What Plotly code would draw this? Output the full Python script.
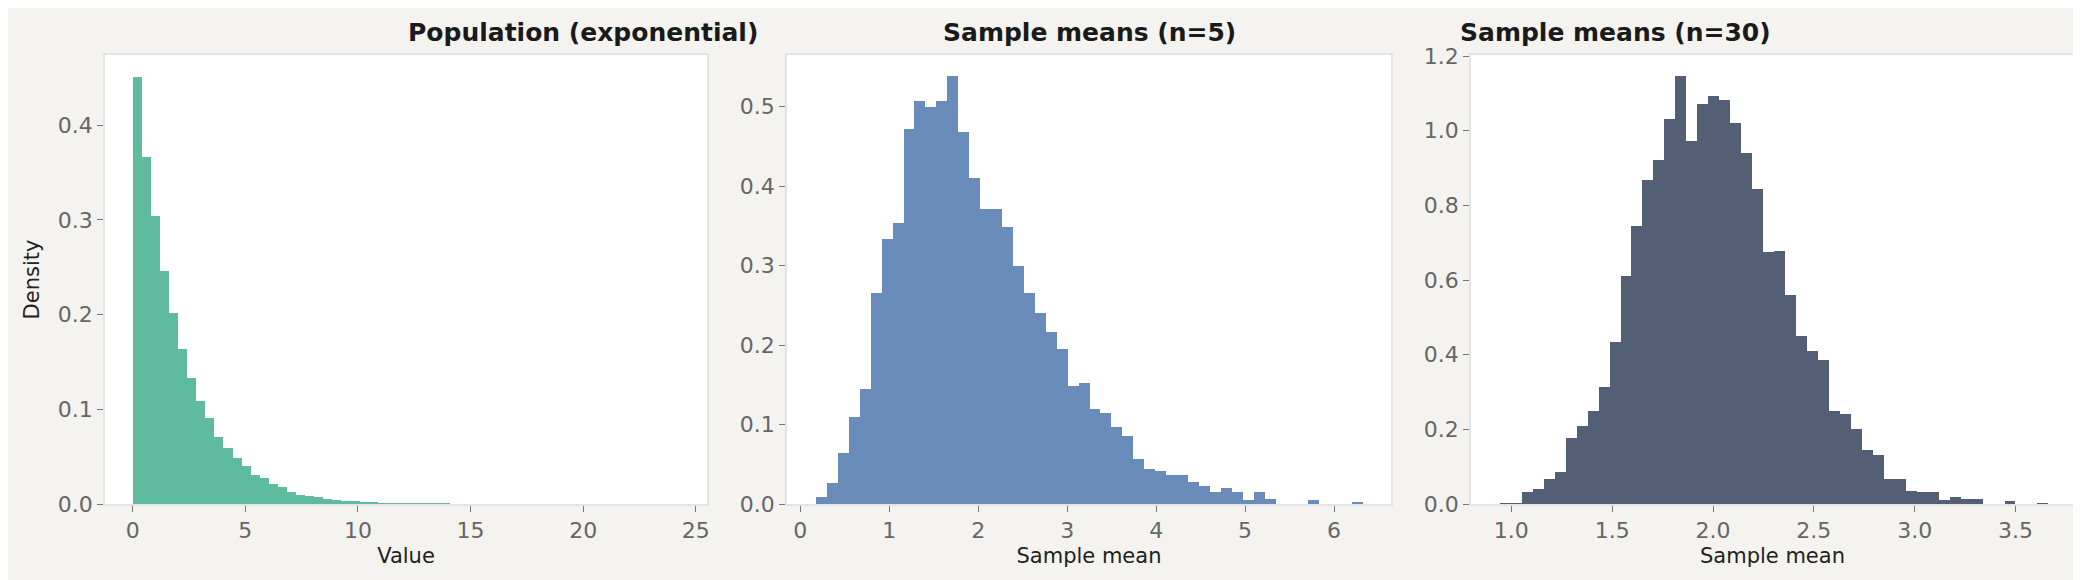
import plotly.graph_objects as go

# histogram densities (bin start, bin width, heights)
pop_start = 0.0
pop_width = 0.403
pop_density = [0.451, 0.366, 0.304, 0.246, 0.202, 0.164, 0.133, 0.109, 0.091, 0.071,
               0.059, 0.049, 0.040, 0.031, 0.027, 0.021, 0.018, 0.013, 0.010, 0.0086,
               0.007, 0.005, 0.0043, 0.003, 0.0027, 0.0015, 0.0012, 0.0008, 0.0006, 0.0004,
               0.0003, 0.0003, 0.0002, 0.0001, 0.0001, 0.0, 0.0, 0.0, 0.0, 0.0]

n5_start = 0.176
n5_width = 0.123
n5_density = [0.0093, 0.026, 0.064, 0.110, 0.145, 0.266, 0.333, 0.354, 0.472, 0.507,
              0.500, 0.507, 0.539, 0.468, 0.410, 0.371, 0.371, 0.348, 0.300, 0.266,
              0.240, 0.217, 0.195, 0.148, 0.152, 0.119, 0.114, 0.0965, 0.086, 0.057,
              0.044, 0.041, 0.037, 0.037, 0.0275, 0.023, 0.015, 0.0205, 0.015, 0.0047,
              0.015, 0.0065, 0.0, 0.0, 0.0, 0.0047, 0.0, 0.0, 0.0, 0.0016]

n30_start = 0.943
n30_width = 0.0544
n30_density = [0.002, 0.002, 0.032, 0.039, 0.068, 0.086, 0.176, 0.208, 0.249, 0.313,
               0.434, 0.610, 0.744, 0.868, 0.922, 1.032, 1.146, 0.973, 1.072, 1.094,
               1.083, 1.021, 0.941, 0.845, 0.675, 0.678, 0.561, 0.450, 0.411, 0.385,
               0.249, 0.242, 0.202, 0.144, 0.131, 0.068, 0.068, 0.036, 0.032, 0.032,
               0.010, 0.020, 0.013, 0.013, 0.0, 0.0, 0.007, 0.0, 0.0, 0.002]

titles = ["Population (exponential)", "Sample means (n=5)", "Sample means (n=30)"]
xlabels = ["Value", "Sample mean", "Sample mean"]
colors = ["#5fbb9e", "#6a8cbb", "#535f74"]

W, H = 2081, 580
panels = [
    (pop_start, pop_width, pop_density, (97, 699), [-1.23, 25.5], [0, 0.474], 5, 0.1, "d"),
    (n5_start, n5_width, n5_density, (779, 1383), [-0.15, 6.64], [0, 0.565], 1, 0.1, "d"),
    (n30_start, n30_width, n30_density, (1463, 2066), [0.80, 3.79], [0, 1.203], 0.5, 0.2, ".1f"),
]

fig = go.Figure()
font = "DejaVu Sans"
annotations = []
for i, (start, width, dens, px, xr, yr, dx, dy, xfmt) in enumerate(panels):
    centers = [start + width * (k + 0.5) for k in range(len(dens))]
    sfx = "" if i == 0 else str(i + 1)
    fig.add_trace(go.Bar(x=centers, y=dens, width=width, marker_color=colors[i],
                         marker_line_width=0, xaxis="x" + sfx, yaxis="y" + sfx,
                         showlegend=False))
    common = dict(showgrid=False, zeroline=False, showline=True, linecolor="#e3e3e3",
                  linewidth=1.5, mirror=True, ticks="outside", ticklen=6, automargin=False,
                  tickcolor="#777777", tickfont=dict(family=font, size=22, color="#666666"))
    fig.layout["xaxis" + sfx] = dict(common, domain=[px[0] / W, px[1] / W], range=xr,
                                     dtick=dx, anchor="y" + sfx, tickformat=xfmt,
                                     title=dict(text=xlabels[i], font=dict(family=font, size=21, color="#222222"),
                                                standoff=6))
    fig.layout["yaxis" + sfx] = dict(common, domain=[0, 1], range=yr, dtick=dy,
                                     anchor="x" + sfx, tickformat=".1f")
    annotations.append(dict(text="<b>" + titles[i] + "</b>", x=(px[0] + px[1]) / 2 / W,
                            y=1, xref="paper", yref="paper", yanchor="bottom", yshift=6,
                            showarrow=False, font=dict(family=font, size=25, color="#1a1a1a")))

fig.layout.yaxis.title = dict(text="Density", font=dict(family=font, size=21, color="#222222"),
                              standoff=12)

fig.update_layout(width=W, height=H, margin=dict(l=0, r=0, t=47, b=84),
                  paper_bgcolor="#f4f3f0", plot_bgcolor="white", bargap=0,
                  annotations=annotations)

fig.write_html("out.html")
